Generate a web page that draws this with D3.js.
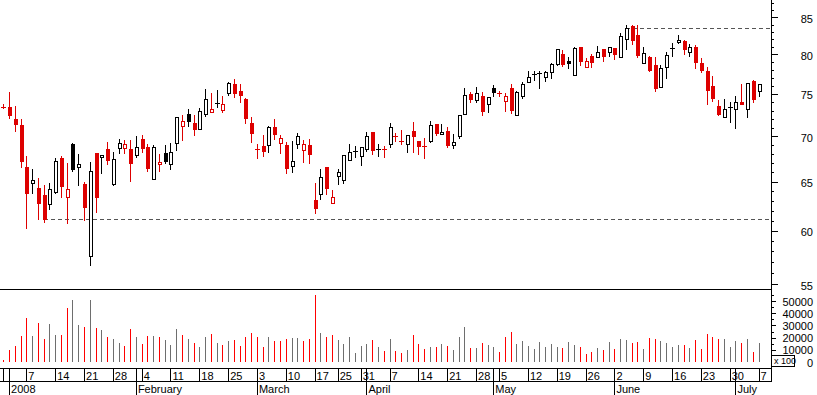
<!DOCTYPE html>
<html><head><meta charset="utf-8">
<script src="https://cdn.jsdelivr.net/npm/d3@7"></script>
<style>
body{margin:0;background:#fff;}
svg{display:block;font-family:"Liberation Sans",Arial,sans-serif;}
</style>
</head><body>
<svg id="c" width="817" height="395"></svg>
<script>
// ---- calendar (trading days) ----
const startDate = "2007-12-31";
const endDate = "2008-07-07";
const holidays = ["2008-01-01", "2008-03-21", "2008-03-24", "2008-05-01"];

// ---- price data (OHLC) ----
const prevClose = 73.6;
const open = [73.47,73.43,72.04,71.30,66.57,64.90,64.33,63.60,62.64,63.89,67.55,63.36,69.08,66.60,64.75,57.60,68.10,67.63,68.52,64.72,
68.63,68.63,68.55,67.85,69.65,68.77,65.32,66.86,68.07,66.86,69.20,71.22,72.56,71.50,70.80,72.56,72.80,73.90,73.03,75.10,
76.22,75.37,74.39,71.50,68.55,68.88,69.03,71.07,69.20,69.00,66.66,69.08,68.47,69.00,63.08,63.67,66.57,62.73,65.57,65.20,
67.37,68.25,67.80,68.52,70.45,68.55,68.60,69.12,70.00,69.45,69.08,70.60,69.45,68.90,69.49,71.41,70.22,70.60,68.96,70.05,
72.56,74.97,74.32,74.76,73.75,75.74,75.18,74.10,75.70,72.44,74.72,76.43,77.40,77.60,77.07,77.73,78.77,80.02,79.15,77.42,
80.93,78.39,79.81,79.62,80.72,80.28,80.85,79.62,82.00,83.80,82.59,78.90,79.62,78.68,75.90,78.39,80.80,81.64,81.78,80.37,
80.96,78.85,77.87,76.00,73.55,72.28,73.30,73.15,74.00,73.15,76.60,75.37];
const high = [73.75,75.25,73.55,72.04,67.80,66.36,65.40,64.65,64.86,67.52,67.77,67.00,69.26,67.99,64.96,67.10,68.10,67.85,69.34,68.18,
69.65,69.57,69.57,70.03,70.10,69.08,68.96,67.99,69.00,69.26,72.20,72.48,73.19,72.48,73.35,75.60,75.13,75.49,74.76,76.50,
76.86,76.22,74.55,72.20,69.08,70.14,71.22,72.04,70.14,69.38,69.45,70.34,69.60,69.65,64.89,66.36,66.57,64.09,66.36,67.85,
69.08,68.85,68.74,70.45,70.45,69.12,68.88,71.50,70.40,70.67,70.10,71.65,69.45,69.85,71.77,71.41,71.41,71.10,70.22,72.44,
75.74,75.30,75.87,75.22,74.68,76.13,75.37,75.18,76.20,75.37,76.43,77.84,77.90,77.87,77.90,78.94,80.76,80.58,79.62,80.93,
80.93,79.49,80.02,81.07,80.72,80.93,80.85,82.89,83.94,83.94,83.94,80.93,79.80,79.62,78.57,80.28,81.57,82.59,81.91,81.44,
81.22,79.54,78.43,77.23,74.23,74.39,74.00,74.76,76.22,76.30,76.73,76.20];
const low = [73.35,72.16,70.60,66.57,60.23,63.78,61.15,60.88,62.16,63.85,63.42,60.72,66.15,64.65,61.08,56.70,61.90,65.90,66.90,64.61,
68.14,68.07,65.10,67.63,68.25,66.18,65.30,66.18,66.97,66.36,68.44,69.60,71.22,70.14,70.80,72.40,72.80,73.47,72.87,74.85,
74.68,74.07,71.56,69.38,67.52,67.80,68.25,69.68,68.14,65.97,66.00,68.63,67.15,67.04,61.73,63.18,63.70,62.73,64.79,64.88,
67.37,67.70,66.78,68.36,67.99,67.77,67.70,68.80,69.49,69.08,68.25,68.25,68.02,67.60,69.30,70.14,70.22,68.80,68.70,69.77,
72.56,74.07,74.07,72.44,72.80,74.72,74.76,72.99,72.75,72.44,74.47,76.43,76.73,75.78,76.64,77.02,78.57,78.48,78.21,77.42,
78.57,78.39,78.39,79.62,79.19,79.75,79.37,79.62,80.67,81.40,79.70,78.90,77.90,75.37,75.90,77.02,79.84,81.57,80.06,79.84,
78.30,77.73,73.80,74.15,72.48,72.28,71.60,70.98,73.75,72.28,74.07,74.80];
const close = [73.40,72.48,71.41,67.20,63.84,65.20,62.80,61.12,64.25,67.20,64.58,64.25,66.38,66.86,62.40,66.10,63.42,67.85,67.37,67.42,
69.20,69.08,66.97,68.80,68.70,66.50,68.74,67.08,67.26,68.18,72.20,71.72,71.80,70.83,72.95,74.36,73.15,73.94,73.75,76.30,
75.10,74.92,72.08,70.40,68.52,68.36,71.10,70.25,69.77,66.50,67.20,70.00,69.08,67.99,62.30,65.50,64.36,63.36,66.05,67.85,
68.18,68.30,68.74,70.05,68.40,68.59,68.55,71.03,69.93,69.38,70.10,70.03,68.92,68.85,71.26,70.40,70.45,69.03,69.30,72.44,
74.85,74.43,75.13,72.99,74.60,75.30,75.13,74.72,73.07,75.30,76.20,77.07,77.46,77.66,77.70,78.77,80.67,78.70,78.85,80.80,
79.19,79.10,79.00,80.28,79.84,80.93,80.02,82.40,83.49,81.96,79.93,80.15,78.00,75.78,78.30,79.93,80.88,81.96,80.72,80.93,
79.00,78.00,75.53,74.56,72.60,73.19,73.39,74.07,73.75,76.30,74.36,76.20];
// volume (in hundreds, as on the axis)
const volume = [1600,9500,12800,21300,36000,21300,31900,18800,31100,22100,22100,44200,50800,30000,28700,50800,27800,26200,20500,18800,
15600,13100,27000,20500,14700,21300,21300,20500,18000,13900,27000,22100,18800,15600,12300,20500,22900,15600,13900,17200,
18000,13100,20500,23800,20500,12300,20500,17200,17200,18800,19700,19700,17200,18800,54900,23800,20500,22100,18000,14700,
20500,7400,13100,14700,18000,12300,9000,18800,9000,7400,9800,22100,14700,10600,12300,12300,14700,13100,9800,20500,
28700,11500,11500,15600,13900,12300,8200,20500,24600,14700,16900,13100,10600,16400,12300,14700,12300,11500,16400,13900,
12300,6600,8200,11500,9800,16400,10600,18800,18000,15600,16400,10600,19700,18800,17200,15600,12300,13900,13900,11500,
18000,10600,22900,20500,18800,18800,12300,17200,15600,18800,8200,15600];

// ---- reference lines ----
const lowLevel = 61.12, lowFrom = "2008-01-10";
const highLevel = 83.49, highFrom = "2008-06-04";

// ---- axis ticks ----
const priceTicks = [55, 60, 65, 70, 75, 80, 85];
const priceMinorTicks = d3.range(55, 88, 1);
const volumeTicks = [0, 10000, 20000, 30000, 40000, 50000];
const volumeMinorTicks = d3.range(0, 55001, 5000);
const monthNames = ["2008", "February", "March", "April", "May", "June", "July"];

// ---- build ----
const fmt = d3.timeFormat("%Y-%m-%d"), parse = d3.timeParse("%Y-%m-%d");
const days = d3.timeDay.range(parse(startDate), d3.timeDay.offset(parse(endDate), 1))
  .filter(d => d.getDay() !== 0 && d.getDay() !== 6 && !holidays.includes(fmt(d)));
const dates = days.map(fmt);

const W = 817, H = 395, axisX = 771;
const x = d3.scalePoint().domain(dates).range([3.3, 758.5]);
const y = d3.scaleLog().domain([55, 85]).range([284, 17.3]);
const yv = d3.scaleLinear().domain([0, 50000]).range([362, 301]);

const RED = "#dd0000", VRED = "#ff0000", VGRAY = "#6e6e6e";
const candles = dates.map((d, i) => ({d, o: open[i], h: high[i], l: low[i], c: close[i], v: volume[i],
  pc: i ? close[i - 1] : prevClose}));
const px = d => Math.round(x(d.d));
const col = d => d.c < d.pc ? RED : "#000";

const svg = d3.select("#c");
svg.append("rect").attr("width", W).attr("height", H).attr("fill", "#fff");

// reference dashed lines
const ref = svg.append("g").attr("shape-rendering", "crispEdges");
[[lowLevel, lowFrom], [highLevel, highFrom]].forEach(([lv, from]) => {
  ref.append("line").attr("x1", Math.round(x(from))).attr("x2", axisX)
    .attr("y1", Math.round(y(lv)) + 0.5).attr("y2", Math.round(y(lv)) + 0.5)
    .attr("stroke", "#555").attr("stroke-dasharray", "4,3");
});

// candles
const cg = svg.append("g").attr("shape-rendering", "crispEdges");
const cs = cg.selectAll("g").data(candles).join("g");
cs.append("line")
  .attr("x1", d => px(d) + 0.5).attr("x2", d => px(d) + 0.5)
  .attr("y1", d => Math.round(y(d.h))).attr("y2", d => Math.round(y(d.l)) + 1)
  .attr("stroke", col);
cs.each(function(d) {
  const g = d3.select(this);
  const top = Math.round(y(Math.max(d.o, d.c)));
  const bot = Math.round(y(Math.min(d.o, d.c)));
  const h = bot - top;
  const p = px(d);
  if (h <= 1) {
    g.append("rect").attr("x", p - 2).attr("y", top).attr("width", 5).attr("height", 1).attr("fill", col(d));
  } else if (d.c < d.o) {
    g.append("rect").attr("x", p - 1).attr("y", top).attr("width", 4).attr("height", h + 1).attr("fill", col(d));
  } else {
    g.append("rect").attr("x", p - 0.5).attr("y", top + 0.5).attr("width", 3).attr("height", h)
      .attr("fill", "#fff").attr("stroke", col(d));
  }
});

// volume bars
const vg = svg.append("g").attr("shape-rendering", "crispEdges");
vg.selectAll("line").data(candles).join("line")
  .attr("x1", d => px(d) + 0.5).attr("x2", d => px(d) + 0.5)
  .attr("y1", yv(0)).attr("y2", d => Math.round(yv(d.v)))
  .attr("stroke", d => d.c < d.pc ? VRED : VGRAY);

// frame lines
const fr = svg.append("g").attr("shape-rendering", "crispEdges").attr("stroke", "#000");
[289.5, 368.5, 381.5].forEach(yy => fr.append("line").attr("x1", 0).attr("x2", axisX + 1).attr("y1", yy).attr("y2", yy));
fr.append("line").attr("x1", axisX + 0.5).attr("x2", axisX + 0.5).attr("y1", 0).attr("y2", 381.5);

const styleText = sel => sel.attr("dy", null).attr("font-size", 11)
  .attr("font-family", "Liberation Sans, Arial, sans-serif").attr("fill", "#000");

// right price axis
const pa = svg.append("g").attr("transform", `translate(${axisX},0)`);
pa.call(d3.axisRight(y).tickValues(priceMinorTicks).tickSize(3).tickFormat(""));
pa.select(".domain").remove();
const pa2 = svg.append("g").attr("transform", `translate(${axisX},0)`);
pa2.call(d3.axisRight(y).tickValues(priceTicks).tickSize(7).tickFormat(d3.format("d")));
pa2.select(".domain").remove();
pa2.selectAll("text").call(styleText).attr("x", 813 - axisX).attr("y", 5).attr("text-anchor", "end");

// right volume axis
const va = svg.append("g").attr("transform", `translate(${axisX},0)`);
va.call(d3.axisRight(yv).tickValues(volumeMinorTicks).tickSize(3).tickFormat(""));
va.select(".domain").remove();
const va2 = svg.append("g").attr("transform", `translate(${axisX},0)`);
va2.call(d3.axisRight(yv).tickValues(volumeTicks).tickSize(5).tickFormat(d3.format("d")));
va2.select(".domain").remove();
va2.selectAll("text").call(styleText).attr("x", 813 - axisX).attr("y", 4).attr("text-anchor", "end");
va2.selectAll(".tick").filter(d => d === 0).select("line").remove();
va.selectAll(".tick").filter(d => d === 0).remove();

// "x 100" box
svg.append("rect").attr("x", axisX + 0.5).attr("y", 355.5).attr("width", 23).attr("height", 11)
  .attr("fill", "#fff").attr("stroke", "#000").attr("shape-rendering", "crispEdges");
svg.append("text").attr("x", axisX + 3).attr("y", 364).attr("font-size", 9).text("x 100");

// bottom date axes
const weekStarts = dates.filter((d, i) => i === 0 || +d3.timeMonday.floor(days[i]) !== +d3.timeMonday.floor(days[i - 1]));
const monthStarts = dates.filter((d, i) => i > 0 && days[i].getMonth() !== days[i - 1].getMonth());

const dayAxis = svg.append("g").attr("transform", "translate(0,368.5)");
dayAxis.call(d3.axisBottom(x).tickValues(weekStarts).tickSize(13)
  .tickFormat((d, i) => i === 0 ? "" : String(+d.slice(8))));
dayAxis.select(".domain").remove();
dayAxis.selectAll("text").call(styleText).attr("x", 1.5).attr("y", 11).attr("text-anchor", "start");

const monAxis = svg.append("g").attr("transform", "translate(0,368.5)");
monAxis.call(d3.axisBottom(x).tickValues(monthStarts).tickSize(27)
  .tickFormat((d, i) => monthNames[i]));
monAxis.select(".domain").remove();
monAxis.selectAll("text").call(styleText).attr("x", 1.5).attr("y", 24).attr("text-anchor", "start");

svg.selectAll(".tick line").attr("shape-rendering", "crispEdges").attr("stroke", "#000");
</script>
</body></html>
